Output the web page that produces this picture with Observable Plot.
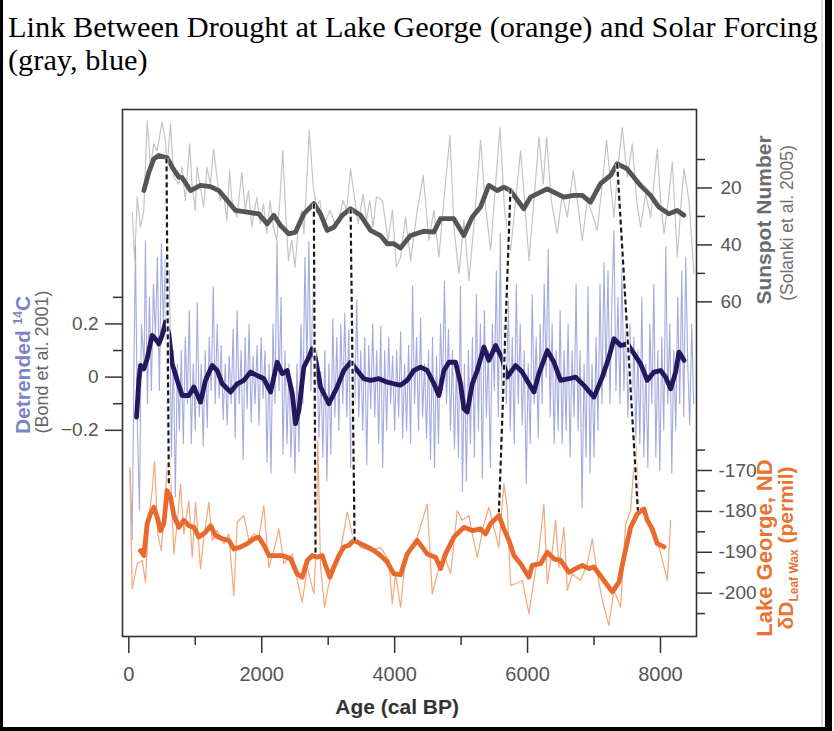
<!DOCTYPE html>
<html><head><meta charset="utf-8">
<script src="https://cdn.jsdelivr.net/npm/d3@7"></script>
<script src="https://cdn.jsdelivr.net/npm/@observablehq/plot@0.6"></script>
<style>
body{margin:0;background:#fff;}
#wrap{position:relative;width:834px;height:731px;overflow:hidden;background:#fff;}
#title{position:absolute;left:8px;top:11px;font-family:"Liberation Serif",serif;color:#000;line-height:33px;white-space:nowrap;font-size:30px;}
#chart{position:absolute;left:0;top:80px;}
.bl{position:absolute;background:#000;}
</style></head><body>
<div id="wrap">
<div id="title"><div id="t1">Link Between Drought at Lake George (orange) and Solar Forcing</div><div>(gray, blue)</div></div>
<div id="chart"></div>
<div style="position:absolute;left:821px;top:0;width:2px;height:727px;background:#ddd"></div>
<div class="bl" style="left:0;top:0;width:3px;height:731px"></div>
<div class="bl" style="left:825px;top:0;width:7px;height:731px"></div>
<div class="bl" style="left:0;top:727px;width:832px;height:4px"></div>
</div>
<script>
// ---- data: [age (cal BP), value] ----
const sunRaw = [[51,28.5],[90,45],[126,23.2],[176,33.8],[226,27.9],[276,-3.7],[326,12.7],[376,4.5],[426,6.9],[501,-3.1],[551,3.3],[576,12.7],[626,-2.5],[676,16.2],[751,18.6],[801,12.7],[851,24.4],[916,4.5],[951,18.6],[1001,27.9],[1026,12.7],[1076,19.7],[1126,26.7],[1176,12.7],[1226,18.6],[1276,6.3],[1326,16.2],[1376,24.4],[1426,22.1],[1476,31.4],[1516,13.9],[1551,24.4],[1626,30.3],[1701,14.5],[1751,27.9],[1801,20.9],[1851,33.8],[1926,23.2],[1976,32.6],[2026,25.6],[2076,36.1],[2126,24.4],[2176,33.8],[2226,38.4],[2276,23.2],[2316,6.9],[2351,24.4],[2401,45.5],[2451,38.4],[2501,47.8],[2551,33.8],[2601,27.9],[2636,36.1],[2716,-0.2],[2776,19.7],[2826,26.7],[2876,24.4],[2926,33.8],[3026,27.9],[3126,33.8],[3226,24.4],[3276,27.9],[3336,13.3],[3401,24.4],[3451,32.6],[3526,22.1],[3576,31.4],[3626,24.4],[3676,33.8],[3726,23.2],[3816,24.4],[3901,38.4],[3966,27.9],[4026,47.8],[4089,44.3],[4164,30.3],[4240,45.5],[4340,27.9],[4430,15.6],[4515,38.4],[4591,27.9],[4666,44.3],[4741,24.4],[4832,1.6],[4892,33.8],[4967,50.1],[5042,31.4],[5118,52.5],[5203,30.3],[5293,3.3],[5368,26.7],[5444,41.9],[5519,18.6],[5584,-1.3],[5654,27.9],[5745,41.9],[5820,24.4],[5895,6.9],[5955,24.4],[6021,45.5],[6096,24.4],[6171,2.2],[6236,18.6],[6286,2.2],[6357,24.4],[6447,36.1],[6522,22.1],[6598,30.3],[6688,13.9],[6748,24.4],[6823,38.4],[6899,24.4],[6974,29.1],[7049,34.9],[7124,18.6],[7189,3.3],[7250,18.6],[7300,30.3],[7360,12.7],[7425,-1.3],[7501,16.2],[7576,4.5],[7641,24.4],[7701,33.8],[7777,22.1],[7852,30.3],[7952,6.3],[8002,24.4],[8053,36.1],[8118,24.4],[8178,10.9],[8254,44.3],[8313,24.4],[8354,13.3],[8429,24.4],[8504,50.1]];
const sunSmooth = [[226,20.9],[301,14.5],[376,9.8],[451,8.6],[578,9.4],[653,12.7],[752,16.2],[803,16.4],[928,20.9],[1078,19.1],[1229,19.5],[1354,20.9],[1481,24.4],[1606,27.9],[1782,28.5],[1956,29.1],[2083,32.6],[2182,29.6],[2283,33.2],[2407,36.1],[2508,35.5],[2633,29.1],[2784,25.5],[2884,29.1],[2985,34.9],[3085,33.8],[3211,29.6],[3336,27.3],[3487,29.6],[3637,34.9],[3787,36.7],[3888,39.6],[3987,39.6],[4088,41.1],[4239,36.7],[4439,35.2],[4589,35.5],[4690,30.8],[4890,30.8],[5041,36.7],[5167,30.2],[5292,26.7],[5417,19.1],[5543,20.9],[5643,19.7],[5743,20.9],[5943,27.3],[6044,23.2],[6295,20.3],[6545,23.2],[6696,22.6],[6822,22.6],[6947,25.0],[7098,18.5],[7248,15.6],[7349,11.5],[7499,13.3],[7699,19.1],[7850,22.6],[7975,26.7],[8125,29.1],[8252,27.9],[8351,29.6]];
const c14Raw = [[20,-0.35],[50,-0.61],[80,0.10],[100,0.49],[130,-0.20],[160,-0.50],[190,0.20],[230,0.05],[250,0.51],[280,-0.10],[310,0.30],[340,-0.05],[370,0.35],[400,0.15],[430,0.45],[460,-0.05],[490,0.50],[520,0.20],[550,0.45],[580,-0.20],[610,0.40],[640,-0.30],[670,0.10],[700,-0.45],[730,0.05],[760,-0.20],[790,0.10],[820,-0.25],[850,0.15],[880,-0.10],[910,0.25],[940,-0.25],[970,0.05],[1000,-0.20],[1030,0.28],[1060,-0.15],[1090,0.05],[1120,-0.26],[1150,0.10],[1180,-0.19],[1210,0.15],[1240,-0.05],[1270,0.34],[1300,-0.10],[1330,0.20],[1360,-0.08],[1390,0.12],[1420,-0.16],[1450,0.05],[1480,-0.18],[1510,0.08],[1540,-0.10],[1570,0.18],[1600,-0.23],[1630,0.25],[1660,-0.10],[1690,0.10],[1720,-0.31],[1750,0.15],[1780,-0.12],[1810,0.20],[1840,-0.17],[1870,0.08],[1900,-0.10],[1930,0.12],[1960,-0.18],[1990,0.15],[2020,-0.08],[2050,0.10],[2080,-0.32],[2110,0.05],[2140,-0.36],[2170,0.20],[2200,-0.10],[2230,0.51],[2260,-0.05],[2290,0.30],[2320,-0.29],[2350,0.10],[2380,-0.25],[2410,0.05],[2440,-0.30],[2470,-0.05],[2500,-0.36],[2530,0.05],[2560,-0.28],[2590,0.20],[2620,-0.10],[2650,0.45],[2680,0.05],[2710,0.51],[2740,-0.05],[2770,0.35],[2800,-0.20],[2830,0.10],[2860,-0.23],[2890,0.02],[2920,-0.30],[2950,0.10],[2980,-0.39],[3010,0.05],[3040,-0.29],[3070,0.22],[3100,-0.15],[3130,0.15],[3160,-0.20],[3190,0.20],[3220,-0.10],[3250,0.24],[3280,-0.15],[3310,0.18],[3340,-0.34],[3370,0.20],[3400,-0.10],[3430,0.29],[3460,-0.15],[3490,0.10],[3520,-0.20],[3550,0.15],[3580,-0.33],[3610,0.12],[3640,-0.12],[3670,0.20],[3700,-0.15],[3730,0.10],[3760,-0.25],[3790,0.19],[3820,-0.34],[3850,0.10],[3880,-0.20],[3910,0.15],[3940,-0.10],[3970,0.08],[4000,-0.20],[4030,0.10],[4060,-0.15],[4090,0.17],[4120,-0.23],[4150,0.05],[4180,-0.20],[4210,0.12],[4240,-0.25],[4270,0.34],[4300,-0.10],[4330,0.15],[4360,-0.20],[4390,0.22],[4420,-0.15],[4450,0.05],[4480,-0.23],[4510,0.10],[4540,-0.31],[4570,0.15],[4600,-0.34],[4630,0.08],[4660,-0.25],[4690,0.20],[4720,-0.05],[4750,0.36],[4780,-0.10],[4810,0.18],[4840,-0.20],[4870,0.10],[4900,-0.27],[4930,0.05],[4960,-0.30],[4990,0.34],[5020,-0.43],[5050,0.05],[5080,-0.39],[5110,0.10],[5140,-0.25],[5170,0.15],[5200,-0.30],[5230,0.31],[5260,-0.20],[5290,0.20],[5320,-0.38],[5350,0.25],[5380,-0.15],[5410,0.10],[5440,-0.34],[5470,0.20],[5500,-0.05],[5530,0.40],[5560,-0.15],[5590,0.54],[5620,-0.25],[5650,0.20],[5680,-0.10],[5710,0.30],[5740,-0.20],[5770,0.15],[5800,-0.25],[5830,0.35],[5860,-0.10],[5890,0.20],[5920,-0.18],[5950,0.10],[5980,-0.40],[6010,0.05],[6040,-0.25],[6070,0.31],[6100,-0.10],[6130,0.15],[6160,-0.23],[6190,0.20],[6220,-0.10],[6250,0.35],[6280,0.00],[6310,0.48],[6340,-0.15],[6370,0.20],[6400,-0.25],[6430,0.10],[6460,-0.20],[6490,0.25],[6520,-0.25],[6550,0.10],[6580,-0.20],[6610,0.20],[6640,-0.30],[6670,0.10],[6700,-0.15],[6730,0.35],[6760,-0.20],[6790,0.10],[6820,-0.49],[6850,0.05],[6880,-0.30],[6910,0.34],[6940,-0.36],[6970,0.05],[7000,-0.30],[7030,0.15],[7060,-0.20],[7090,0.35],[7120,-0.10],[7150,0.43],[7180,0.00],[7210,0.40],[7240,-0.10],[7270,0.30],[7300,0.55],[7330,-0.05],[7360,0.30],[7390,-0.10],[7420,0.43],[7450,-0.05],[7480,0.25],[7510,-0.15],[7540,0.20],[7570,-0.20],[7600,0.15],[7630,-0.23],[7660,0.10],[7690,-0.25],[7720,0.30],[7750,-0.30],[7780,0.05],[7810,-0.34],[7840,0.20],[7870,-0.10],[7900,0.35],[7930,-0.30],[7960,0.10],[7990,-0.35],[8020,0.15],[8050,-0.20],[8080,0.49],[8110,-0.10],[8140,0.20],[8170,-0.36],[8200,0.10],[8230,-0.20],[8260,0.30],[8290,-0.10],[8320,0.40],[8350,-0.15],[8380,0.45],[8410,0.05],[8440,-0.18],[8470,0.20],[8500,-0.10]];
const c14Smooth = [[116,-0.150],[151,-0.012],[176,0.044],[226,0.031],[276,0.069],[351,0.157],[401,0.144],[452,0.125],[502,0.157],[552,0.207],[602,0.163],[653,0.050],[728,-0.012],[803,-0.069],[903,-0.069],[979,-0.037],[1079,-0.094],[1154,-0.012],[1255,0.044],[1330,0.025],[1405,-0.025],[1531,-0.056],[1631,-0.025],[1731,-0.012],[1832,0.019],[1932,0.006],[2032,-0.006],[2133,-0.056],[2233,0.056],[2308,0.013],[2383,0.025],[2459,-0.062],[2509,-0.175],[2559,-0.125],[2634,0.038],[2710,0.075],[2760,0.107],[2810,0.069],[2885,-0.037],[3010,-0.100],[3136,-0.037],[3236,0.025],[3337,0.056],[3437,0.025],[3537,-0.006],[3638,-0.012],[3763,-0.006],[3889,-0.019],[3989,-0.025],[4089,-0.030],[4189,-0.012],[4290,0.025],[4390,0.038],[4490,0.025],[4591,-0.025],[4666,-0.069],[4741,0.025],[4817,0.056],[4917,0.056],[4992,-0.025],[5042,-0.119],[5092,-0.131],[5168,-0.025],[5243,0.025],[5343,0.113],[5418,0.063],[5519,0.119],[5619,0.069],[5694,0.000],[5820,0.044],[5920,0.019],[6021,-0.025],[6096,-0.056],[6171,0.013],[6297,0.100],[6397,0.056],[6497,-0.012],[6623,-0.006],[6723,0.000],[6848,-0.031],[6999,-0.075],[7124,0.000],[7225,0.075],[7300,0.144],[7400,0.119],[7501,0.125],[7601,0.088],[7701,0.050],[7802,-0.012],[7902,0.019],[8002,0.025],[8078,0.000],[8153,-0.044],[8228,0.019],[8278,0.094],[8354,0.063]];
const lakeRaw = [[15,-169.2],[51,-198.9],[126,-192.8],[202,-192.0],[251,-197.3],[301,-181.4],[352,-174.9],[387,-167.7],[436,-185.5],[488,-189.6],[537,-179.0],[602,-162.7],[638,-174.9],[677,-190.4],[728,-183.1],[778,-173.3],[828,-185.5],[903,-177.4],[954,-191.2],[1004,-177.8],[1079,-194.0],[1129,-186.3],[1204,-177.8],[1255,-187.1],[1330,-184.7],[1430,-187.9],[1505,-185.5],[1580,-200.6],[1631,-182.6],[1731,-181.0],[1806,-187.1],[1881,-185.5],[1957,-186.3],[2032,-178.6],[2107,-193.7],[2182,-189.6],[2258,-184.3],[2333,-192.8],[2459,-190.4],[2534,-196.9],[2610,-202.2],[2685,-193.7],[2784,-200.1],[2825,-187.1],[2844,-162.7],[2885,-193.7],[2945,-203.4],[3010,-197.7],[3085,-193.7],[3186,-189.6],[3287,-180.2],[3362,-185.5],[3487,-188.8],[3638,-189.6],[3788,-188.8],[3913,-192.0],[3964,-202.6],[4014,-195.3],[4089,-203.4],[4164,-191.2],[4240,-188.8],[4340,-186.3],[4491,-178.2],[4566,-200.2],[4641,-195.3],[4741,-190.4],[4842,-195.3],[4942,-179.8],[5018,-182.2],[5117,-181.0],[5168,-185.5],[5243,-191.2],[5343,-183.1],[5418,-179.0],[5493,-183.9],[5569,-188.8],[5644,-173.2],[5695,-179.0],[5744,-198.1],[5820,-197.7],[5921,-196.9],[6020,-205.0],[6095,-196.9],[6171,-189.6],[6246,-178.2],[6297,-197.7],[6372,-189.6],[6422,-182.2],[6472,-193.7],[6547,-183.9],[6598,-199.3],[6673,-195.3],[6798,-196.9],[6899,-192.8],[6974,-186.7],[7049,-195.3],[7125,-201.8],[7224,-207.9],[7299,-199.3],[7400,-203.4],[7475,-183.1],[7551,-179.8],[7626,-162.7],[7676,-179.0],[7776,-179.8],[7852,-184.7],[7952,-187.1],[8028,-192.0],[8103,-196.9],[8153,-182.2]];
const lakeSmooth = [[176,-189.6],[226,-190.8],[276,-183.0],[326,-180.6],[376,-179.0],[427,-181.4],[477,-184.7],[527,-183.0],[577,-174.9],[628,-176.5],[678,-181.0],[753,-183.9],[828,-182.2],[904,-183.5],[979,-183.9],[1054,-186.3],[1154,-185.1],[1230,-183.5],[1305,-185.9],[1405,-186.7],[1506,-187.1],[1581,-189.2],[1681,-188.7],[1782,-187.9],[1882,-186.7],[1957,-186.3],[2032,-188.3],[2108,-190.8],[2208,-190.8],[2308,-190.8],[2434,-191.6],[2534,-195.3],[2609,-196.1],[2685,-192.0],[2760,-190.8],[2835,-191.2],[2910,-190.8],[2960,-193.2],[3026,-196.1],[3086,-193.6],[3161,-190.8],[3236,-188.7],[3312,-188.3],[3387,-187.1],[3487,-187.9],[3588,-188.7],[3688,-189.6],[3788,-190.8],[3889,-192.4],[3989,-195.3],[4089,-195.5],[4189,-190.4],[4340,-187.1],[4490,-190.4],[4616,-191.2],[4691,-194.0],[4766,-190.4],[4892,-186.3],[5042,-183.9],[5168,-184.7],[5293,-184.3],[5368,-185.5],[5444,-183.0],[5569,-181.0],[5644,-184.3],[5720,-187.1],[5795,-190.8],[5895,-192.8],[6021,-196.1],[6071,-193.2],[6196,-192.8],[6297,-190.0],[6397,-191.6],[6497,-192.0],[6623,-194.9],[6723,-194.0],[6823,-193.2],[6924,-194.0],[6999,-193.6],[7149,-196.9],[7275,-199.7],[7375,-197.3],[7450,-191.2],[7551,-183.9],[7651,-180.6],[7751,-179.4],[7802,-182.2],[7877,-184.3],[7952,-187.9],[8053,-188.7]];
// dashed links: sunspot peak -> Lake George peak
const linkSunAge = [567, 2784, 3337, 5743, 7349];
const linkSunVal = [9.6, 25.5, 27.3, 20.3, 11.5];
const linkLakeAge = [602, 2810, 3397, 5569, 7660];
const linkLakeVal = [-173.4, -190.4, -187.1, -180.2, -179.8];
// ticks
const xTicks = [0, 2000, 4000, 6000, 8000];
const xMinor = [1000, 3000, 5000, 7000];
const sunTicks = [20, 40, 60];
const sunMinor = [10, 30, 50];
const c14Ticks = [0.2, 0, -0.2];
const c14Minor = [0.3, 0.1, -0.1];
const lakeTicks = [-170, -180, -190, -200];
const lakeMinor = [-165, -175, -185, -195, -205];

// secondary axes mapped into the primary (14C) coordinate
const sunY = d3.scaleLinear().domain([20, 60]).range([0.711, 0.283]);
const lakeY = d3.scaleLinear().domain([-170, -200]).range([-0.351, -0.812]);

// fit title width
(function(){
  const c = document.createElement("canvas").getContext("2d");
  c.font = "30px 'Liberation Serif'";
  const w = c.measureText(document.getElementById("t1").textContent).width;
  document.getElementById("title").style.fontSize = (30 * 810 / w).toFixed(2) + "px";
})();

const W = 834, H = 646, mL = 122, mR = 138, mT = 29, mB = 90, top0 = 80;
const tr = (arr, f) => arr.map(([a, v]) => ({a, y: f(v)}));
const id = v => v;
const links = linkSunAge.map((a, i) => ({a1: a, y1: sunY(linkSunVal[i]), a2: linkLakeAge[i], y2: lakeY(linkLakeVal[i])}));
const axOpt = {stroke: "#333", strokeWidth: 1.5, fill: "#555", label: null};
const blank = () => "";

const plot = Plot.plot({
  width: W, height: H, marginLeft: mL, marginRight: mR, marginTop: mT, marginBottom: mB,
  style: {fontFamily: "'Liberation Sans', Arial, sans-serif", background: "transparent", overflow: "visible"},
  x: {domain: [-95, 8542], axis: null, label: null},
  y: {domain: [-0.975, 1.006], axis: null, label: null},
  marks: [
    Plot.line(tr(sunRaw, sunY), {x: "a", y: "y", stroke: "#c4c4c4", strokeWidth: 1.2}),
    Plot.line(tr(c14Raw, id), {x: "a", y: "y", stroke: "#9aa1da", strokeWidth: 1.1, strokeOpacity: 0.9}),
    Plot.line(tr(lakeRaw, lakeY), {x: "a", y: "y", stroke: "#f3a77c", strokeWidth: 1.2}),
    Plot.line(tr(sunSmooth, sunY), {x: "a", y: "y", stroke: "#555", strokeWidth: 4.8}),
    Plot.line(tr(c14Smooth, id), {x: "a", y: "y", stroke: "#24175c", strokeWidth: 4.8}),
    Plot.line(tr(lakeSmooth, lakeY), {x: "a", y: "y", stroke: "#e8692b", strokeWidth: 4.8}),
    Plot.link(links, {x1: "a1", y1: "y1", x2: "a2", y2: "y2", stroke: "white", strokeWidth: 3.6}),
    Plot.link(links, {x1: "a1", y1: "y1", x2: "a2", y2: "y2", stroke: "#1a1a1a", strokeWidth: 2.2, strokeDasharray: "5,3"}),
    Plot.frame({stroke: "#333", strokeWidth: 1.6}),
    Plot.axisX({...axOpt, ticks: xTicks, anchor: "bottom", tickSize: 17, tickPadding: 13, fontSize: 20, tickFormat: d => String(d)}),
    Plot.axisX({...axOpt, ticks: xMinor, anchor: "bottom", tickSize: 9, tickFormat: blank}),
    Plot.axisY({...axOpt, ticks: c14Ticks, anchor: "left", tickSize: 17, tickPadding: 7, fontSize: 19, tickFormat: v => (v === 0 ? "0" : d3.format(".1f")(v))}),
    Plot.axisY({...axOpt, ticks: c14Minor, anchor: "left", tickSize: 9, tickFormat: blank}),
    Plot.axisY({...axOpt, ticks: sunTicks.map(sunY), anchor: "right", tickSize: 15, tickPadding: 9, fontSize: 19, tickFormat: v => String(Math.round(sunY.invert(v)))}),
    Plot.axisY({...axOpt, ticks: sunMinor.map(sunY), anchor: "right", tickSize: 8, tickFormat: blank}),
    Plot.axisY({...axOpt, ticks: lakeTicks.map(lakeY), anchor: "right", tickSize: 15, tickPadding: 7, fontSize: 19, tickFormat: v => String(Math.round(lakeY.invert(v)))}),
    Plot.axisY({...axOpt, ticks: lakeMinor.map(lakeY), anchor: "right", tickSize: 8, tickFormat: blank})
  ]
});
document.getElementById("chart").appendChild(plot);

const svg = d3.select(plot);
const ff = "'Liberation Sans', Arial, sans-serif";
function rot(x, yPage, txt, size, weight, color) {
  return svg.append("text")
    .attr("transform", `translate(${x},${yPage - top0}) rotate(-90)`)
    .attr("text-anchor", "middle")
    .attr("font-family", ff).attr("font-size", size).attr("font-weight", weight)
    .attr("fill", color).text(txt);
}
rot(771, 220, "Sunspot Number", 21, "bold", "#6b6b6b");
rot(793, 223, "(Solanki et al. 2005)", 17.5, "normal", "#6f6f6f");
rot(772, 548, "Lake George, ND", 22, "bold", "#e8742f");
const dD = rot(793, 548, "", 21, "bold", "#e8742f");
dD.append("tspan").text("δD");
dD.append("tspan").attr("font-size", 12).attr("dy", 5).text("Leaf Wax");
dD.append("tspan").attr("dy", -5).text(" (permil)");
const det = rot(30, 365, "", 21, "bold", "#7b83c6");
det.append("tspan").text("Detrended ");
det.append("tspan").attr("font-size", 12).attr("dy", -8).text("14");
det.append("tspan").attr("dy", 8).text("C");
rot(48, 362, "(Bond et al. 2001)", 18, "normal", "#666");
const xs = plot.scale("x");
svg.append("text").attr("x", xs.apply(4000) + 3).attr("y", 714 - top0)
  .attr("text-anchor", "middle").attr("font-family", ff).attr("font-size", 21)
  .attr("font-weight", "bold").attr("fill", "#333").text("Age (cal BP)");
</script>
</body></html>
